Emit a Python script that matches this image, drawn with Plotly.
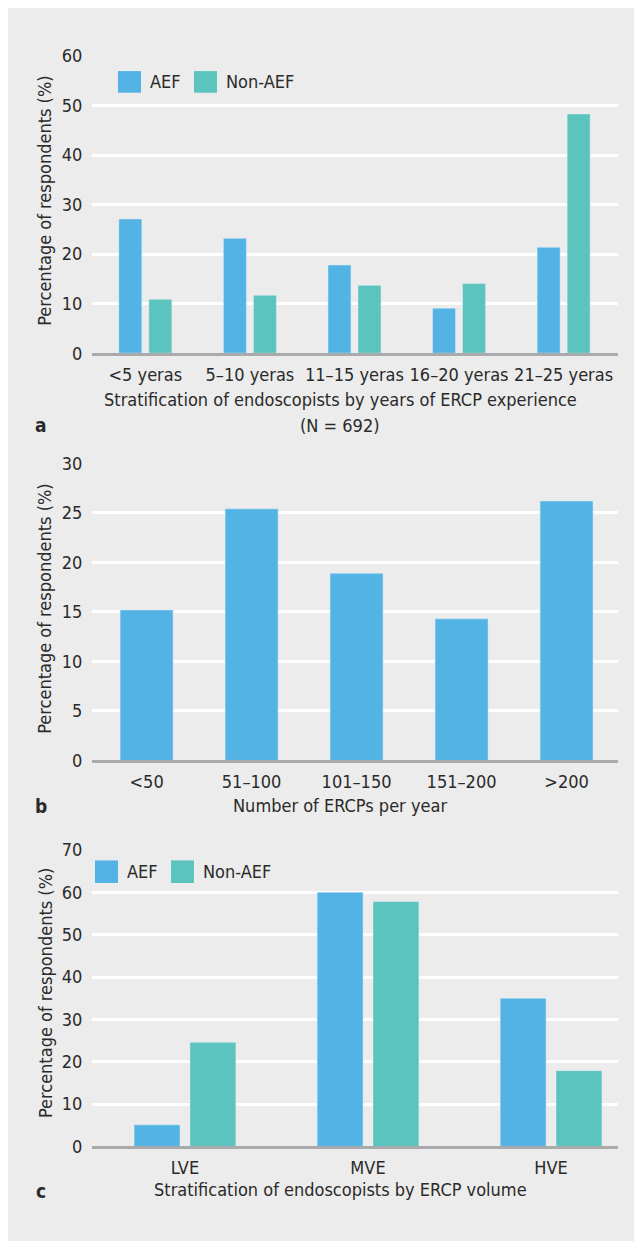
import plotly.graph_objects as go

# ---------------- data ----------------
exp_categories = ["<5 yeras", "5–10 yeras", "11–15 yeras", "16–20 yeras", "21–25 yeras"]
exp_aef = [27.1, 23.2, 17.8, 9.1, 21.4]
exp_non_aef = [10.9, 11.7, 13.7, 14.1, 48.3]

vol_categories = ["<50", "51–100", "101–150", "151–200", ">200"]
vol_values = [15.2, 25.4, 18.9, 14.3, 26.2]

strat_categories = ["LVE", "MVE", "HVE"]
strat_aef = [5.1, 60.0, 35.0]
strat_non_aef = [24.6, 57.8, 17.9]

series_names = ["AEF", "Non-AEF"]

# ---------------- style ----------------
OX, OY = 8, 8          # default page (body) margin of the html page
W, H = 634, 1233       # figure size so that page coords match the reference
BLUE = "#54B3E5"
TEAL = "#5BC4BE"
PANEL = "#EBECEB"
AXIS = "#A9AAAC"
TXT = "#2A2A2A"
FONT = "DejaVu Sans Condensed, Liberation Sans, Arial, sans-serif"
FS = 18


def px(x):
    return (x - OX) / W


def py(y):
    return 1 - (y - OY) / H


fig = go.Figure()

# panel a
fig.add_trace(go.Bar(x=exp_categories, y=exp_aef, name=series_names[0], marker_color=BLUE,
                     width=0.22, offset=-0.2535, xaxis="x", yaxis="y", showlegend=False))
fig.add_trace(go.Bar(x=exp_categories, y=exp_non_aef, name=series_names[1], marker_color=TEAL,
                     width=0.22, offset=0.0335, xaxis="x", yaxis="y", showlegend=False))
# panel b
fig.add_trace(go.Bar(x=vol_categories, y=vol_values, name=series_names[0], marker_color=BLUE,
                     width=0.505, xaxis="x2", yaxis="y2", showlegend=False))
# panel c
fig.add_trace(go.Bar(x=strat_categories, y=strat_aef, name=series_names[0], marker_color=BLUE,
                     width=0.251, offset=-0.278, xaxis="x3", yaxis="y3", showlegend=False))
fig.add_trace(go.Bar(x=strat_categories, y=strat_non_aef, name=series_names[1], marker_color=TEAL,
                     width=0.251, offset=0.0273, xaxis="x3", yaxis="y3", showlegend=False))

xdom = [px(92), px(618)]
xcommon = dict(domain=xdom, type="category", showgrid=False, zeroline=False,
               showline=True, linecolor=AXIS, linewidth=2.5,
               ticks="outside", ticklen=3, tickcolor="rgba(0,0,0,0)",
               tickfont=dict(size=FS, color=TXT, family=FONT), fixedrange=True)
ycommon = dict(showgrid=True, gridcolor="white", gridwidth=2.5, zeroline=False,
               showline=False, ticks="outside", ticklen=5, tickcolor="rgba(0,0,0,0)",
               tickfont=dict(size=FS, color=TXT, family=FONT), fixedrange=True)

layout = dict(
    width=W, height=H,
    margin=dict(l=0, r=0, t=0, b=0),
    paper_bgcolor=PANEL,
    plot_bgcolor=PANEL,
    barmode="overlay",
    font=dict(family=FONT, size=FS, color=TXT),
    xaxis=dict(xcommon, anchor="y", range=[-0.51, 4.52]),
    yaxis=dict(ycommon, anchor="x", domain=[py(348), py(45.7)], range=[0, 60], dtick=10),
    xaxis2=dict(xcommon, anchor="y2", range=[-0.52, 4.49]),
    yaxis2=dict(ycommon, anchor="x2", domain=[py(762.3), py(460)], range=[0, 30], dtick=5),
    xaxis3=dict(xcommon, anchor="y3", range=[-0.508, 2.366]),
    yaxis3=dict(ycommon, anchor="x3", domain=[py(1155), py(853.3)], range=[0, 70], dtick=10),
)
fig.update_layout(**layout)

shapes = []
ann = []


def legend_item(x0, y0, y1, color, label):
    shapes.append(dict(type="rect", xref="paper", yref="paper", x0=px(x0), x1=px(x0 + 23),
                       y0=py(y1), y1=py(y0), fillcolor=color, line=dict(width=0)))
    ann.append(dict(text=label, xref="paper", yref="paper", x=px(x0 + 30), y=py((y0 + y1) / 2),
                    xanchor="left", yanchor="middle", showarrow=False,
                    font=dict(size=FS, color=TXT, family=FONT)))


legend_item(118, 61, 83, BLUE, series_names[0])
legend_item(194, 61, 83, TEAL, series_names[1])
legend_item(95, 864, 887, BLUE, series_names[0])
legend_item(171, 864, 887, TEAL, series_names[1])


def text(t, x, y, size=FS, angle=0, bold=False, anchor="center"):
    ann.append(dict(text=f"<b>{t}</b>" if bold else t, xref="paper", yref="paper",
                    x=px(x), y=py(y), xanchor=anchor, yanchor="middle", textangle=angle,
                    showarrow=False, font=dict(size=size, color=TXT, family=FONT)))


ytitle = "Percentage of respondents (%)"
text(ytitle, 45, 193, angle=-90)
text(ytitle, 45, 608, angle=-90)
text(ytitle, 45, 999, angle=-90)

text("Stratification of endoscopists by years of ERCP experience", 340, 395)
text("(N = 692)", 340, 422)
text("Number of ERCPs per year", 340, 808)
text("Stratification of endoscopists by ERCP volume", 340.5, 1199)

text("a", 40.5, 421, size=19, bold=True)
text("b", 40.5, 809, size=19, bold=True)
text("c", 40.5, 1200, size=19, bold=True)

fig.update_layout(shapes=shapes, annotations=ann)

fig.write_html("out.html")
